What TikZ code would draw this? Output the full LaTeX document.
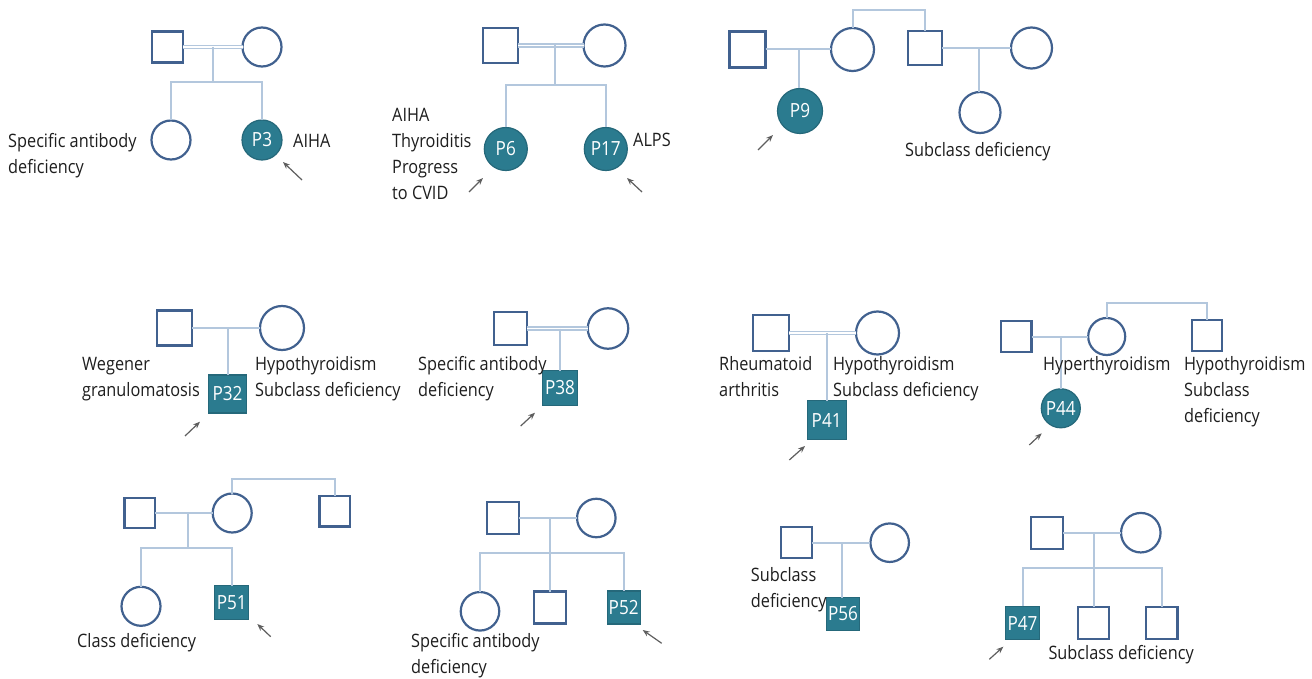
\documentclass[tikz,border=0pt]{standalone}
\usepackage{fontspec}
\setmainfont{Open Sans}[FakeStretch=0.88]
\usetikzlibrary{arrows.meta}
\definecolor{symc}{HTML}{41618F}
\definecolor{connc}{HTML}{B3C7DD}
\definecolor{affc}{HTML}{2B7B8F}
\definecolor{affd}{HTML}{25687A}
\definecolor{arrc}{HTML}{5E5E5E}
\definecolor{txtc}{HTML}{1E1E1E}
\newcommand{\plines}[1]{\begin{tabular}[t]{@{}l@{}}#1\end{tabular}}
\newcommand{\pedlblfont}{\fontsize{18.5}{26}\selectfont}
\newcommand{\pedpfont}{\fontsize{19.5}{21}\selectfont}
\tikzset{
  sym/.style={draw=symc, line width=2.2pt, inner sep=0pt, outer sep=0pt},
  male/.style={sym, rectangle, minimum size=#1},
  female/.style={sym, circle, minimum size=#1},
  affbase/.style={fill=affc, draw=affd, line width=1.2pt, inner sep=0pt, outer sep=0pt, text=white, font=\pedpfont},
  affm/.style={affbase, rectangle, minimum size=#1},
  afff/.style={affbase, circle, minimum size=#1},
  conn/.style={draw=connc, line width=2pt},
  dconn/.style={draw=connc, line width=1.3pt, double=white, double distance=1.6pt},
  lbl/.style={anchor=base west, inner sep=0pt, text=txtc, font=\pedlblfont},
  proband/.style={draw=arrc, line width=1.2pt, -{Stealth[length=7pt,width=5.5pt]}},
}
\begin{document}
\begin{tikzpicture}[x=1pt, y=-1pt]
\useasboundingbox (0,0) rectangle (1312,679);
\fill[white] (0,0) rectangle (1312,679);

% ---------- Pedigree 1 (P3)
\node[male=31] (p1f) at (167.5,47) {};
\node[female=39] (p1m) at (262,47) {};
\node[female=39] (p1c) at (171,140) {};
\node[afff=40] (p1x) at (262,140) {P3};
\coordinate (p1t) at (213,47);
\coordinate (p1s) at (213,82);
\draw[dconn] (p1f.east) -- (p1m.west);
\draw[conn] (p1t) -- (p1s);
\draw[conn] (p1c.north) -- (p1c.north |- p1s) -- (p1x.north |- p1s) -- (p1x.north);
\node[lbl] (p1l1) at (8,148) {\plines{Specific antibody\\deficiency}};
\node[lbl] (p1l2) at (293,148) {AIHA};
\coordinate (a1t) at (302,180); \coordinate (a1h) at (283,162);
\draw[proband] (a1t) -- (a1h);

% ---------- Pedigree 2 (P6, P17)
\node[male=35] (p2f) at (500.5,45.5) {};
\node[female=42] (p2m) at (604.5,45.5) {};
\node[afff=43] (p2x) at (505.8,149) {P6};
\node[afff=43] (p2y) at (605.8,149) {P17};
\coordinate (p2t) at (555,45.5);
\coordinate (p2s) at (555,85);
\draw[dconn] (p2f.east) -- (p2m.west);
\draw[conn] (p2t) -- (p2s);
\draw[conn] (p2x.north) -- (p2x.north |- p2s) -- (p2y.north |- p2s) -- (p2y.north);
\node[lbl] (p2l1) at (392,122) {\plines{AIHA\\Thyroiditis\\Progress\\to CVID}};
\node[lbl] (p2l2) at (633,147) {ALPS};
\coordinate (a2t) at (469,192); \coordinate (a2h) at (483,178);
\draw[proband] (a2t) -- (a2h);
\coordinate (a3t) at (642,192); \coordinate (a3h) at (627,178);
\draw[proband] (a3t) -- (a3h);

% ---------- Pedigree 3 (P9)
\node[male=36] (p3f) at (747.5,49.5) {};
\node[female=43] (p3m) at (852.5,49.5) {};
\node[afff=45] (p3x) at (800,111) {P9};
\node[male=34.5] (p3u) at (925,48) {};
\node[female=41] (p3w) at (1031.5,48) {};
\node[female=41] (p3c) at (980,112.5) {};
\coordinate (p3t) at (799,49.5);
\coordinate (p3a) at (0,10);
\coordinate (p3v) at (979,48);
\draw[conn] (p3f.east) -- (p3m.west);
\draw[conn] (p3t) -- (p3t |- p3x.north);
\draw[conn] (p3m.north) -- (p3m.north |- p3a) -- (p3u.north |- p3a) -- (p3u.north);
\draw[conn] (p3u.east) -- (p3w.west);
\draw[conn] (p3v) -- (p3v |- p3c.north);
\node[lbl] (p3l1) at (905,157) {Subclass deficiency};
\coordinate (a4t) at (758,150); \coordinate (a4h) at (773,135);
\draw[proband] (a4t) -- (a4h);

% ---------- Pedigree 4 (P32)
\node[male=35] (p4f) at (174.5,328) {};
\node[female=44] (p4m) at (282,328) {};
\node[affm=38] (p4x) at (227.5,394) {P32};
\coordinate (p4t) at (227.5,328);
\draw[conn] (p4f.east) -- (p4m.west);
\draw[conn] (p4t) -- (p4x.north);
\node[lbl] (p4l1) at (82,370) {\plines{Wegener\\granulomatosis}};
\node[lbl] (p4l2) at (255,370) {\plines{Hypothyroidism\\Subclass deficiency}};
\coordinate (a5t) at (185,436); \coordinate (a5h) at (200,421.7);
\draw[proband] (a5t) -- (a5h);

% ---------- Pedigree 5 (P38)
\node[male=33] (p5f) at (510.8,328.5) {};
\node[female=40.5] (p5m) at (608,328.5) {};
\node[affm=34.5] (p5x) at (560,388) {P38};
\coordinate (p5t) at (560,328.5);
\draw[dconn] (p5f.east) -- (p5m.west);
\draw[conn] (p5t) -- (p5x.north);
\node[lbl] (p5l1) at (418,370) {\plines{Specific antibody\\deficiency}};
\coordinate (a6t) at (520.7,426); \coordinate (a6h) at (535,412.7);
\draw[proband] (a6t) -- (a6h);

% ---------- Pedigree 6 (P41)
\node[male=36] (p6f) at (770.8,333) {};
\node[female=43] (p6m) at (877.5,333) {};
\node[affm=39] (p6x) at (826.7,420) {P41};
\coordinate (p6t) at (826.7,333);
\draw[dconn] (p6f.east) -- (p6m.west);
\draw[conn] (p6t) -- (p6x.north);
\node[lbl] (p6l1) at (719,370) {\plines{Rheumatoid\\arthritis}};
\node[lbl] (p6l2) at (833,370) {\plines{Hypothyroidism\\Subclass deficiency}};
\coordinate (a7t) at (789.3,460); \coordinate (a7h) at (805,446);
\draw[proband] (a7t) -- (a7h);

% ---------- Pedigree 7 (P44)
\node[male=30.5] (p7f) at (1016.3,336.5) {};
\node[female=37] (p7m) at (1106.7,336.5) {};
\node[afff=39] (p7x) at (1060.8,408.3) {P44};
\node[male=30.5] (p7u) at (1207,335.5) {};
\coordinate (p7t) at (1060.8,336.5);
\coordinate (p7a) at (0,302.7);
\draw[conn] (p7f.east) -- (p7m.west);
\draw[conn] (p7t) -- (p7x.north);
\draw[conn] (p7m.north) -- (p7m.north |- p7a) -- (p7u.north |- p7a) -- (p7u.north);
\node[lbl] (p7l1) at (1043,370) {Hyperthyroidism};
\node[lbl] (p7l2) at (1184,370) {\plines{Hypothyroidism\\Subclass\\deficiency}};
\coordinate (a8t) at (1029.3,445); \coordinate (a8h) at (1041.7,433.3);
\draw[proband] (a8t) -- (a8h);

% ---------- Pedigree 8 (P51)
\node[male=30.5] (p8f) at (139.7,513) {};
\node[female=39] (p8m) at (232.2,513) {};
\node[male=30.5] (p8u) at (334.7,511.3) {};
\node[female=39] (p8c) at (141,606.3) {};
\node[affm=34] (p8x) at (231.8,602.5) {P51};
\coordinate (p8t) at (187.7,513);
\coordinate (p8s) at (187.7,547.7);
\coordinate (p8a) at (0,479.3);
\draw[conn] (p8f.east) -- (p8m.west);
\draw[conn] (p8m.north) -- (p8m.north |- p8a) -- (p8u.north |- p8a) -- (p8u.north);
\draw[conn] (p8t) -- (p8s);
\draw[conn] (p8c.north) -- (p8c.north |- p8s) -- (p8x.north |- p8s) -- (p8x.north);
\node[lbl] (p8l1) at (77,647) {Class deficiency};
\coordinate (a9t) at (270.7,636.7); \coordinate (a9h) at (257.3,624);
\draw[proband] (a9t) -- (a9h);

% ---------- Pedigree 9 (P52)
\node[male=32] (p9f) at (503.3,518) {};
\node[female=38.5] (p9m) at (596.3,518) {};
\node[female=38.5] (p9c) at (480,611.3) {};
\node[male=32] (p9d) at (550,607.5) {};
\node[affm=33] (p9x) at (623.7,607.5) {P52};
\coordinate (p9t) at (550,518);
\coordinate (p9s) at (550,552.7);
\draw[conn] (p9f.east) -- (p9m.west);
\draw[conn] (p9t) -- (p9d.north);
\draw[conn] (p9c.north) -- (p9c.north |- p9s) -- (p9x.north |- p9s) -- (p9x.north);
\node[lbl] (p9l1) at (411,647) {\plines{Specific antibody\\deficiency}};
\coordinate (a10t) at (661.7,643.3); \coordinate (a10h) at (642.7,630);
\draw[proband] (a10t) -- (a10h);

% ---------- Pedigree 10 (P56)
\node[male=31] (q1f) at (796.7,542.7) {};
\node[female=38.5] (q1m) at (889.7,542.7) {};
\node[affm=33] (q1x) at (843,614) {P56};
\coordinate (q1t) at (841.7,542.7);
\draw[conn] (q1f.east) -- (q1m.west);
\draw[conn] (q1t) -- (q1t |- q1x.north);
\node[lbl] (q1l1) at (750.7,581) {\plines{Subclass\\deficiency}};

% ---------- Pedigree 11 (P47)
\node[male=32] (q2f) at (1047,532.7) {};
\node[female=39.5] (q2m) at (1140.8,532.7) {};
\node[affm=33.5] (q2x) at (1022.5,623) {P47};
\node[male=31.5] (q2d) at (1093.5,623) {};
\node[male=31.5] (q2e) at (1161.7,623) {};
\coordinate (q2t) at (1093.5,532.7);
\coordinate (q2s) at (1093.5,568.3);
\draw[conn] (q2f.east) -- (q2m.west);
\draw[conn] (q2t) -- (q2d.north);
\draw[conn] (q2x.north) -- (q2x.north |- q2s) -- (q2e.north |- q2s) -- (q2e.north);
\node[lbl] (q2l1) at (1048.3,659.3) {Subclass deficiency};
\coordinate (a11t) at (989.3,659.3); \coordinate (a11h) at (1003.3,646.7);
\draw[proband] (a11t) -- (a11h);
\end{tikzpicture}
\end{document}
